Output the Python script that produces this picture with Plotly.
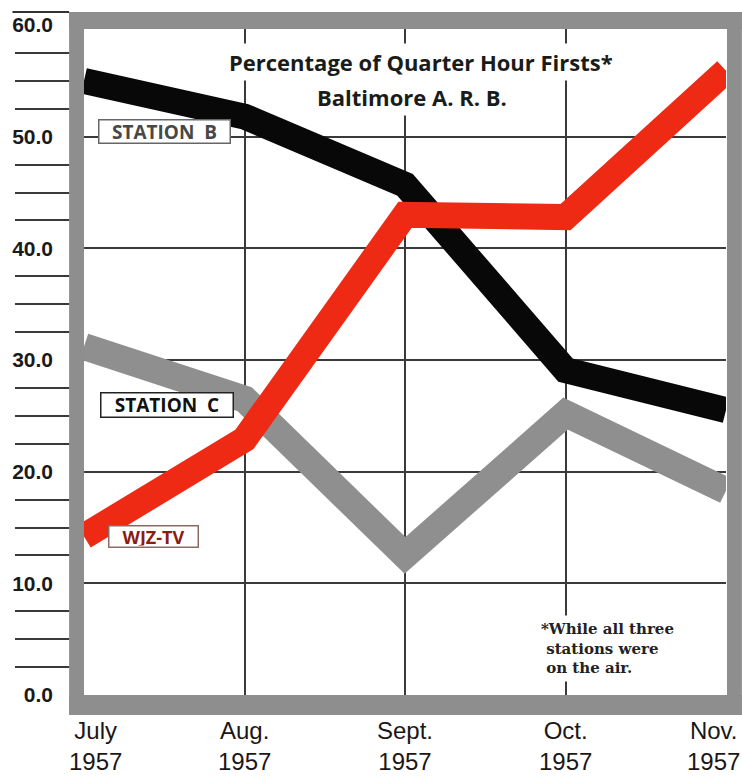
import plotly.graph_objects as go

# ---- data ----
months = ["July<br>1957", "Aug.<br>1957", "Sept.<br>1957", "Oct.<br>1957", "Nov.<br>1957"]
x_idx = [0, 1, 2, 3, 4]
station_b = [55.0, 51.8, 45.7, 29.1, 25.5]
station_c = [31.2, 26.5, 12.5, 25.2, 18.3]
wjz_tv = [14.2, 22.9, 43.0, 42.8, 55.9]
y_ticks = [0, 10, 20, 30, 40, 50, 60]
y_ticktext = ["0.0", "10.0", "20.0", "30.0", "40.0", "50.0", "60.0"]
y_minor = [2.5, 5, 7.5, 12.5, 15, 17.5, 22.5, 25, 27.5, 32.5, 35, 37.5,
           42.5, 45, 47.5, 52.5, 55, 57.5]

RED = "#ee2a14"
GRAY = "#8f8f8f"
BLACK = "#080808"
FRAME = "#8e8e8e"

fig = go.Figure()
fig.add_trace(go.Scatter(x=x_idx, y=station_c, mode="lines",
                         line=dict(color=GRAY, width=27), hoverinfo="skip"))
fig.add_trace(go.Scatter(x=x_idx, y=station_b, mode="lines",
                         line=dict(color=BLACK, width=26), hoverinfo="skip"))
fig.add_trace(go.Scatter(x=x_idx, y=wjz_tv, mode="lines",
                         line=dict(color=RED, width=26), hoverinfo="skip"))

W, H = 742, 778
L, R, T, B = 80, 16, 25, 83
pw, ph = W - L - R, H - T - B


def px(xp):
    return (xp - L) / pw


def py(yp):
    return (H - B - yp) / ph


shapes = []
# textured gray frame (solid approximation)
for x0, x1, y0, y1 in [(65, 80, 12, 715), (65, 742, 12, 29), (727, 742, 12, 715), (65, 742, 695, 715)]:
    shapes.append(dict(type="rect", xref="paper", yref="paper",
                       x0=px(x0), x1=px(x1), y0=py(y1), y1=py(y0),
                       fillcolor=FRAME, line=dict(width=0), layer="above"))
shapes.append(dict(type="line", xref="paper", yref="paper",
                   x0=px(8), x1=px(65), y0=py(12), y1=py(12),
                   line=dict(color="#333", width=2), layer="above"))

annotations = []
# x labels
for i, m in enumerate(months):
    shift = 0
    if i == 0:
        shift = 11
    elif i == len(months) - 1:
        shift = -13
    annotations.append(dict(x=x_idx[i], y=0, xref="x", yref="paper", text=m,
                            showarrow=False, xanchor="center", yanchor="top",
                            xshift=shift, yshift=-20,
                            font=dict(family="Liberation Sans, Arial, sans-serif", size=24, color="#1c1616")))

title_font = dict(family="Open Sans, sans-serif", size=22, color="#1a1c1a", weight="bold")
annotations.append(dict(x=px(419), y=py(62), xref="paper", yref="paper",
                        text="Percentage of Quarter Hour Firsts*", showarrow=False,
                        xanchor="center", yanchor="middle", font=title_font,
                        bgcolor="white", borderpad=3))
annotations.append(dict(x=px(410), y=py(97), xref="paper", yref="paper",
                        text="Baltimore A. R. B.", showarrow=False,
                        xanchor="center", yanchor="middle", font=title_font,
                        bgcolor="white", borderpad=3))

annotations.append(dict(x=px(535), y=py(615), xref="paper", yref="paper",
                        text="*While all three<br>\u00a0stations were<br>\u00a0on the air.",
                        showarrow=False, xanchor="left", yanchor="top", align="left",
                        font=dict(family="DejaVu Serif, serif", size=15,
                                  color="#222", weight="bold"),
                        bgcolor="white", borderpad=4))

label_font = "Open Sans, sans-serif"
annotations.append(dict(x=0.502, y=50.5, xref="x", yref="y", text="STATION  B",
                        showarrow=False, xanchor="center", yanchor="middle",
                        width=128, height=20, align="center",
                        font=dict(family=label_font, size=19, color="#484848", weight="bold"),
                        bgcolor="white", bordercolor="#666", borderwidth=1.5, borderpad=1))
annotations.append(dict(x=0.517, y=26.0, xref="x", yref="y", text="STATION  C",
                        showarrow=False, xanchor="center", yanchor="middle",
                        width=129, height=21, align="center",
                        font=dict(family=label_font, size=19, color="#111", weight="bold"),
                        bgcolor="white", bordercolor="#222", borderwidth=1.5, borderpad=1))
annotations.append(dict(x=0.433, y=14.2, xref="x", yref="y", text="WJZ-TV",
                        showarrow=False, xanchor="center", yanchor="middle",
                        width=86, height=18, align="center",
                        font=dict(family=label_font, size=18, color="#8a1c14", weight="bold"),
                        bgcolor="white", bordercolor="#8a6a66", borderwidth=1.5, borderpad=1))

fig.update_layout(
    width=W, height=H,
    margin=dict(l=L, r=R, t=T, b=B, pad=0),
    paper_bgcolor="white", plot_bgcolor="white",
    showlegend=False,
    shapes=shapes, annotations=annotations,
    xaxis=dict(range=[0, 4], tickvals=x_idx, showticklabels=False, ticks="",
               showgrid=True, gridcolor="#3a3a3a", gridwidth=1.5, zeroline=False,
               showline=False, fixedrange=True),
    yaxis=dict(range=[0, 60], tickvals=y_ticks, ticktext=y_ticktext, ticks="",
               showgrid=True, gridcolor="#3a3a3a", gridwidth=1.5, zeroline=False,
               showline=False, ticklabelstandoff=30,
               tickfont=dict(family="Liberation Sans, Arial, sans-serif",
                             size=21, color="#1a1a1a", weight="bold"),
               minor=dict(tickmode="array", tickvals=y_minor, ticks="outside", ticklen=68,
                          tickwidth=2, tickcolor="#3a3a3a", showgrid=False),
               fixedrange=True),
)

fig.write_html("out.html", config={"displayModeBar": False},
               post_script="document.body.style.margin='0';document.body.style.padding='0';"
                           "document.documentElement.style.overflow='hidden';")
